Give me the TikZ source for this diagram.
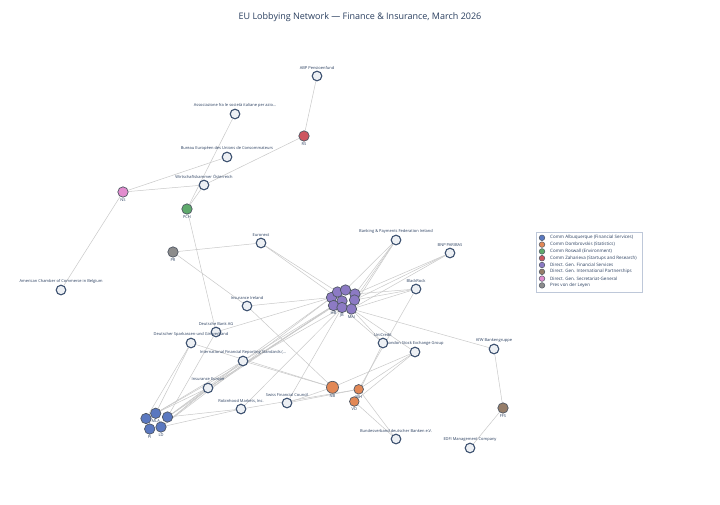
\documentclass[tikz,border=0pt]{standalone}
\usepackage{fontspec}
\setmainfont{Open Sans}
\definecolor{txt}{HTML}{2A3F5F}
\definecolor{orgfill}{HTML}{EDF0F4}
\definecolor{orgline}{HTML}{3D5170}
\definecolor{edgec}{HTML}{C9C9C9}
\definecolor{mline}{HTML}{505864}
\definecolor{cblue}{RGB}{90,120,192}
\definecolor{corange}{RGB}{226,136,86}
\definecolor{cgreen}{RGB}{95,170,108}
\definecolor{cred}{RGB}{205,85,95}
\definecolor{cpurple}{RGB}{140,122,196}
\definecolor{cbrown}{RGB}{150,125,105}
\definecolor{cpink}{RGB}{226,140,206}
\definecolor{cgrey}{RGB}{140,140,140}
\definecolor{legbord}{HTML}{BEC8D9}
\pgfdeclarelayer{bg}
\pgfsetlayers{bg,main}
\begin{document}
\begin{tikzpicture}[x=1pt,y=-1pt,
  org/.style={circle,inner sep=0pt,minimum size=9.6pt,fill=orgfill,draw=orgline,line width=1.1pt},
  mem/.style={circle,inner sep=0pt,minimum size=10.4pt,fill=#1,draw=mline,line width=0.7pt},
  lbl/.style={font=\fontsize{4}{4.5}\selectfont,text=txt,inner sep=0.6pt},
  edge/.style={draw=edgec,line width=0.5pt},
  legdot/.style={circle,inner sep=0pt,minimum size=5.6pt,fill=#1,draw=mline,line width=0.5pt},
  legtxt/.style={font=\fontsize{4.5}{5}\selectfont,text=txt,inner sep=0pt,anchor=west},
  label distance=0pt]
\useasboundingbox (0,0) rectangle (720,504);

\node[font=\fontsize{9}{11}\selectfont,text=txt] (title) at (360,17) {EU Lobbying Network — Finance \& Insurance, March 2026};

% organisations
\node[org,label={[lbl]above:ABP Pensioenfund}] (abp) at (317,76) {};
\node[org,label={[lbl]above:Associazione fra le società italiane per azio...}] (assoc) at (235,114) {};
\node[org,label={[lbl]above:Bureau Européen des Unions de Consommateurs}] (bureau) at (227,157) {};
\node[org,label={[lbl]above:Wirtschaftskammer Österreich}] (wko) at (204,185) {};
\node[org,label={[lbl]above:Euronext}] (euronext) at (261,243) {};
\node[org,label={[lbl]above:Banking \& Payments Federation Ireland}] (bpfi) at (396,240) {};
\node[org,label={[lbl]above:BNP PARIBAS}] (bnp) at (450,253) {};
\node[org,label={[lbl]above:American Chamber of Commerce in Belgium}] (amcham) at (61,290) {};
\node[org,label={[lbl]above:BlackRock}] (blackrock) at (416,289) {};
\node[org,label={[lbl]above:Insurance Ireland}] (insirl) at (247,306) {};
\node[org,label={[lbl]above:Deutsche Bank AG}] (dbank) at (216,332) {};
\node[org,label={[lbl]above:Deutscher Sparkassen-und Giroverband}] (dsgv) at (191,343) {};
\node[org,label={[lbl]above:UniCredit}] (unicredit) at (383,343) {};
\node[org,label={[lbl]above:London Stock Exchange Group}] (lseg) at (415,352) {};
\node[org,label={[lbl]above:KfW Bankengruppe}] (kfw) at (494,349) {};
\node[org,label={[lbl]above:International Financial Reporting Standards (...}] (ifrs) at (243,361) {};
\node[org,label={[lbl]above:Insurance Europe}] (inseu) at (208,388) {};
\node[org,label={[lbl]above:Swiss Financial Council}] (swiss) at (287,403) {};
\node[org,label={[lbl]above:{Robinhood Markets, Inc.}}] (robin) at (241,409) {};
\node[org,label={[lbl]above:Bundesverband deutscher Banken e.V.}] (bdb) at (396,439) {};
\node[org,label={[lbl]above:EDFI Management Company}] (edfi) at (470,448) {};

% members
\node[mem=cred,label={[lbl]below:RS}] (rs) at (304,136) {};
\node[mem=cpink,label={[lbl]below:NS}] (ns) at (123,192) {};
\node[mem=cgreen,label={[lbl]below:PCH}] (pch) at (187,209) {};
\node[mem=cgrey,label={[lbl]below:PR}] (pr) at (173,252) {};
\node[mem=cbrown,label={[lbl]below:FFS}] (ffs) at (503,408) {};

% purple cluster
\node[mem=cpurple] (p1) at (331.5,297.5) {};
\node[mem=cpurple] (p2) at (337.5,292) {};
\node[mem=cpurple] (p3) at (345.5,290) {};
\node[mem=cpurple] (p4) at (355,294) {};
\node[mem=cpurple] (p5) at (342,301) {};
\node[mem=cpurple] (p6) at (354.5,300) {};
\node[mem=cpurple,label={[lbl]below:HB}] (p7) at (333.5,305.5) {};
\node[mem=cpurple,label={[lbl]below:JB}] (p8) at (342,307.5) {};
\node[mem=cpurple,label={[lbl]below:MAI}] (p9) at (351.5,309) {};

% orange cluster
\node[mem=corange,minimum size=12pt,label={[lbl]below:NB}] (nb) at (332.5,387.3) {};
\node[mem=corange,minimum size=9.6pt,label={[lbl]below:MH}] (mh) at (358.7,389.3) {};
\node[mem=corange,minimum size=9.6pt,label={[lbl]below:VD}] (vd) at (354.3,401.5) {};

% blue cluster
\node[mem=cblue] (b1) at (146,418.5) {};
\node[mem=cblue,label={[lbl]below:MLA}] (b2) at (155.7,413.3) {};
\node[mem=cblue] (b3) at (167.5,417) {};
\node[mem=cblue,label={[lbl]below:PI}] (b4) at (149.7,429) {};
\node[mem=cblue,label={[lbl]below:LD}] (b5) at (161,427) {};

\begin{pgfonlayer}{bg}
\fill[white] (0,0) rectangle (720,504);
\foreach \a/\b in {abp/rs,rs/wko,ns/wko,ns/bureau,ns/amcham,pch/assoc,pch/wko,pch/dbank,
  pr/euronext,pr/insirl,euronext/p2,euronext/p5,bpfi/p3,bpfi/p4,bpfi/p6,bpfi/p9,
  bnp/p4,bnp/p6,bnp/p9,blackrock/p4,blackrock/p6,blackrock/p9,insirl/p1,dbank/p1,
  ifrs/p7,ifrs/p1,inseu/p7,inseu/p5,b3/p7,b2/p8,b5/p1,robin/p8,swiss/p8,kfw/p9,
  unicredit/p9,unicredit/p8,lseg/p9,insirl/nb,ifrs/nb,dsgv/nb,lseg/nb,swiss/nb,
  lseg/mh,lseg/vd,swiss/mh,bdb/mh,bdb/vd,unicredit/vd,blackrock/mh,robin/mh,
  b1/dsgv,b2/dsgv,b3/dbank,b2/ifrs,b3/ifrs,b5/ifrs,b2/inseu,b3/inseu,b5/inseu,
  b5/robin,b3/robin,kfw/ffs,edfi/ffs}
  \draw[edge] (\a) -- (\b);
\end{pgfonlayer}

% legend
\node[draw=legbord,fill=white,line width=0.5pt,minimum width=106pt,minimum height=60pt,inner sep=0pt,anchor=north west] (legend) at (535.5,232) {};
\node[legdot=cblue] (l1) at (542,237.8) {};
\node[legdot=corange] (l2) at (542,244.6) {};
\node[legdot=cgreen] (l3) at (542,251.4) {};
\node[legdot=cred] (l4) at (542,258.2) {};
\node[legdot=cpurple] (l5) at (542,265.0) {};
\node[legdot=cbrown] (l6) at (542,271.8) {};
\node[legdot=cpink] (l7) at (542,278.6) {};
\node[legdot=cgrey] (l8) at (542,285.4) {};
\node[legtxt] (t1) at (550,237.8) {Comm Albuquerque (Financial Services)};
\node[legtxt] (t2) at (550,244.6) {Comm Dombrovskis (Statistics)};
\node[legtxt] (t3) at (550,251.4) {Comm Roswall (Environment)};
\node[legtxt] (t4) at (550,258.2) {Comm Zaharieva (Startups and Research)};
\node[legtxt] (t5) at (550,265.0) {Direct. Gen. Financial Services};
\node[legtxt] (t6) at (550,271.8) {Direct. Gen. International Partnerships};
\node[legtxt] (t7) at (550,278.6) {Direct. Gen. Secretariat-General};
\node[legtxt] (t8) at (550,285.4) {Pres von der Leyen};
\end{tikzpicture}
\end{document}
